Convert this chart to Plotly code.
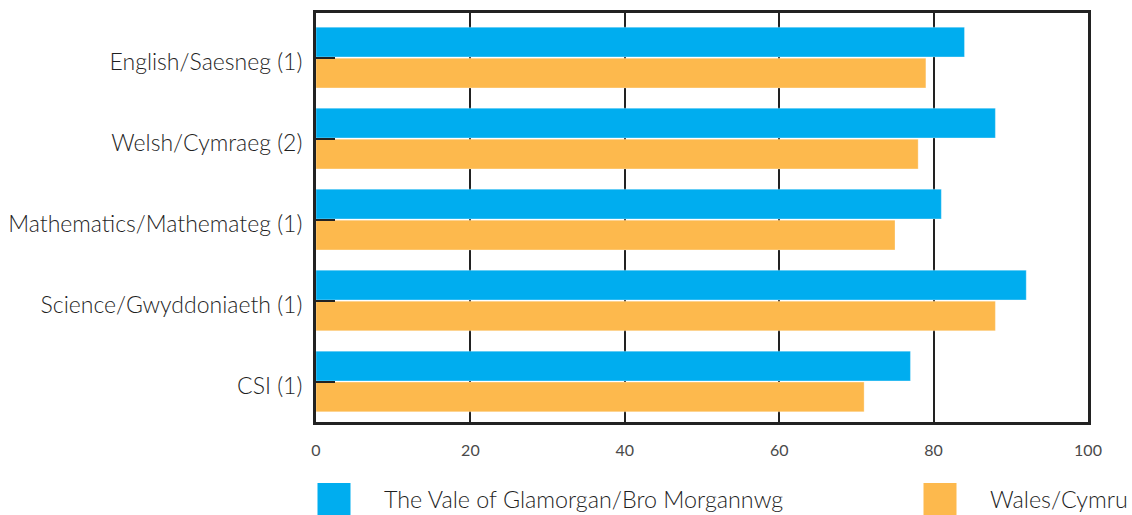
import plotly.graph_objects as go

categories = ["English/Saesneg (1)", "Welsh/Cymraeg (2)", "Mathematics/Mathemateg (1)",
              "Science/Gwyddoniaeth (1)", "CSI (1)"]
vale_values = [84, 88, 81, 92, 77]
wales_values = [79, 78, 75, 88, 71]
series_names = ["The Vale of Glamorgan/Bro Morgannwg", "Wales/Cymru"]
series_colors = ["#00ADEF", "#FDB94D"]
x_ticks = [0, 20, 40, 60, 80, 100]

fig = go.Figure()
for name, vals, col in zip(series_names, [vale_values, wales_values], series_colors):
    fig.add_trace(go.Bar(
        y=categories, x=vals, name=name, orientation="h",
        marker=dict(color=col, line=dict(color="rgba(255,255,255,0.6)", width=0.5)),
        showlegend=False,
    ))

FONT = "Lato, sans-serif"
TEXT = "#1f1f1f"
fig.update_layout(
    width=1132, height=515,
    margin=dict(l=316, r=44, t=13, b=93, autoexpand=False),
    paper_bgcolor="white", plot_bgcolor="white",
    barmode="group", bargap=0.235, bargroupgap=0.04,
    font=dict(family=FONT, color=TEXT),
)
fig.update_xaxes(
    range=[0, 100], tickvals=x_ticks, ticktext=[str(t) for t in x_ticks],
    showgrid=True, gridcolor="#222222", gridwidth=1.5,
    showline=True, linecolor="#222222", linewidth=3, mirror=True,
    ticks="", tickfont=dict(size=16, color="#4a4a4a", weight=400), ticklabelstandoff=12,
    zeroline=False, automargin=False,
)
fig.update_yaxes(
    autorange=False, range=[4.5, -0.55], showgrid=False,
    showline=True, linecolor="#222222", linewidth=3, mirror=True,
    ticks="inside", ticklen=19, tickwidth=1.5, tickcolor="#222222",
    tickfont=dict(size=23, color=TEXT, weight=300), ticklabelstandoff=6,
    ticklabelshift=-4,
    automargin=False,
)

# Legend drawn as large swatches + labels below the plot
plot_w = 772
plot_h = 409
legend_x = [0.0, 606 / plot_w]
for i, (name, col) in enumerate(zip(series_names, series_colors)):
    x0 = legend_x[i]
    fig.add_shape(type="rect", xref="paper", yref="paper",
                  x0=x0 + 1.5 / plot_w, x1=x0 + 34.5 / plot_w,
                  y0=-61 / plot_h, y1=-94 / plot_h,
                  fillcolor=col, line=dict(width=0))
    fig.add_annotation(xref="paper", yref="paper", x=x0 + 66 / plot_w, y=-77 / plot_h,
                       text=name, showarrow=False, xanchor="left", yanchor="middle",
                       font=dict(size=23.3, color=TEXT, weight=300))

fig.write_html("out.html", config={"displayModeBar": False},
               post_script="document.body.style.margin='0';")
